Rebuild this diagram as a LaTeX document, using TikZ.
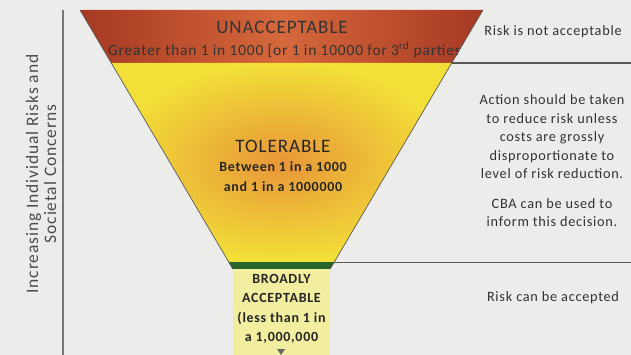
\documentclass[tikz,border=0pt]{standalone}
\usepackage{fontspec}
\setmainfont{Carlito}[LetterSpace=5]
\definecolor{bg}{RGB}{236,236,234}
\definecolor{redD}{RGB}{165,56,34}
\definecolor{redM}{RGB}{214,104,60}
\definecolor{yelO}{RGB}{232,150,56}
\definecolor{yelY}{RGB}{242,224,56}
\definecolor{grn}{RGB}{40,100,44}
\definecolor{pale}{RGB}{242,238,160}
\definecolor{txt}{RGB}{50,50,50}
\definecolor{axisg}{RGB}{120,120,120}
\tikzset{
  edge/.style={draw=black!65,line width=0.7pt},
  sepline/.style={draw=black!65,line width=1.2pt},
  righttext/.style={text=txt,align=center,font=\fontsize{14.3}{18.5}\selectfont,inner sep=0pt},
  boxtext/.style={text=black!85,align=center,inner sep=0pt},
}
\begin{document}
\begin{tikzpicture}[x=1pt,y=-1pt]
\fill[bg] (0,0) rectangle (631,355);
\useasboundingbox (0,0) rectangle (631,355);
% axis
\draw[axisg,line width=2.5pt] (63,10) -- (63,355);
\node[rotate=90,align=center,text=black!70,font=\fontsize{17.5}{18}\selectfont] (lab) at (41,174) {Increasing Individual Risks and\\Societal Concerns};
% red trapezoid
\shade[left color=redD,right color=redD,middle color=redM] (80,10) -- (483,10) -- (451.7,63) -- (111.3,63) -- cycle;
% yellow trapezoid
\shade[inner color=yelO,outer color=yelY] (111.3,63) -- (451.7,63) -- (334.3,262) -- (228.7,262) -- cycle;
% green band
\fill[grn] (228.7,262) -- (334.3,262) -- (330.2,269) -- (232.8,269) -- cycle;
% edges
\draw[edge] (80,10) -- (232.8,269);
\draw[edge] (483,10) -- (330.2,269);
% pale box
\fill[pale] (233,269) rectangle (330,355);
\fill[black!60] (277,349) -- (285,349) -- (281,355) -- cycle;
% separators
\coordinate (s1a) at (451.7,63);
\coordinate (s1b) at (631,63);
\coordinate (s2a) at (334.3,262.5);
\coordinate (s2b) at (631,262.5);
\draw[sepline] (s1a) -- (s1b);
\draw[sepline] (s2a) -- (s2b);
% red texts
\node[boxtext,text=black!80,font=\fontsize{19}{20}\selectfont] (unacc) at (282,27) {UNACCEPTABLE};
\begin{scope}
\clip (80,10) -- (483,10) -- (451.7,63) -- (111.3,63) -- cycle;
\node[boxtext,text=black!80,font=\fontsize{15.5}{16}\selectfont,anchor=west] (greater) at (108,50) {Greater than 1 in 1000 [or 1 in 10000 for 3\textsuperscript{rd} parties]};
\end{scope}
% tolerable
\node[boxtext,font=\fontsize{19}{20}\selectfont] (tol) at (283,146) {TOLERABLE};
\node[boxtext,font=\bfseries\fontsize{14}{20}\selectfont] (tolsub) at (283,177) {Between 1 in a 1000\\and 1 in a 1000000};
% broadly
\node[boxtext,font=\bfseries\fontsize{14}{19.3}\selectfont] (broad) at (281.5,309) {BROADLY\\ACCEPTABLE\\(less than 1 in\\a 1,000,000};
% right texts
\node[righttext] (r1) at (553,32) {Risk is not acceptable};
\node[righttext] (r2) at (552,137) {Action should be taken\\to reduce risk unless\\costs are grossly\\disproportionate to\\level of risk reduction.};
\node[righttext] (r3) at (552,212.5) {CBA can be used to\\inform this decision.};
\node[righttext] (r4) at (553,298) {Risk can be accepted};
\end{tikzpicture}
\end{document}
